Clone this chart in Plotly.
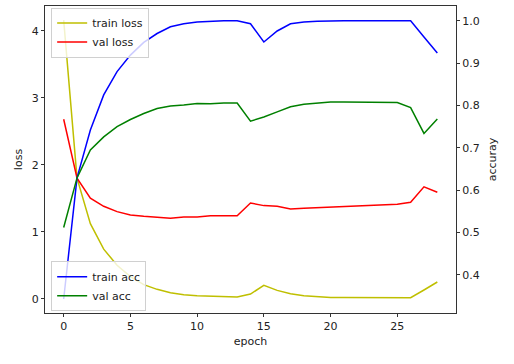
import plotly.graph_objects as go

# Training history (29 epochs)
epochs = list(range(29))
train_loss = [4.16, 1.80, 1.12, 0.74, 0.50, 0.33, 0.21, 0.14, 0.09, 0.06, 0.045,
              0.035, 0.03, 0.025, 0.07, 0.20, 0.125, 0.075, 0.045, 0.03, 0.02,
              0.02, 0.02, 0.02, 0.02, 0.02, 0.015, 0.13, 0.25]
val_loss = [2.68, 1.80, 1.50, 1.38, 1.30, 1.25, 1.23, 1.21, 1.20, 1.22, 1.22,
            1.24, 1.24, 1.24, 1.43, 1.39, 1.38, 1.34, 1.35, 1.36, 1.37,
            1.38, 1.38, 1.39, 1.40, 1.41, 1.44, 1.67, 1.59]
train_acc = [0.343, 0.629, 0.742, 0.825, 0.880, 0.919, 0.949, 0.970, 0.986, 0.993, 0.997,
             0.999, 1.0, 1.0, 0.993, 0.950, 0.976, 0.993, 0.997, 0.999, 1.0,
             1.0, 1.0, 1.0, 1.0, 1.0, 1.0, 0.962, 0.924]
val_acc = [0.512, 0.629, 0.695, 0.726, 0.750, 0.767, 0.781, 0.793, 0.799, 0.801, 0.805,
           0.804, 0.806, 0.806, 0.763, 0.773, 0.785, 0.797, 0.803, 0.806, 0.808,
           0.808, 0.808, 0.808, 0.808, 0.807, 0.795, 0.734, 0.768]

FONT = "DejaVu Sans"
TXT = "#222222"
LW = 1.5

fig = go.Figure()
fig.add_trace(go.Scatter(x=epochs, y=train_loss, mode="lines", name="train loss",
                         line=dict(color="#bfbf00", width=LW), legend="legend"))
fig.add_trace(go.Scatter(x=epochs, y=val_loss, mode="lines", name="val loss",
                         line=dict(color="#ff0000", width=LW), legend="legend"))
fig.add_trace(go.Scatter(x=epochs, y=train_acc, mode="lines", name="train acc",
                         line=dict(color="#0000ff", width=LW), yaxis="y2", legend="legend2"))
fig.add_trace(go.Scatter(x=epochs, y=val_acc, mode="lines", name="val acc",
                         line=dict(color="#008000", width=LW), yaxis="y2", legend="legend2"))

axis_common = dict(showgrid=False, zeroline=False, showline=True, linecolor="#333333",
                   linewidth=1, ticks="outside", ticklen=3, tickcolor="#333333",
                   tickfont=dict(family=FONT, size=11, color=TXT))

legend_common = dict(bgcolor="rgba(255,255,255,0.8)", bordercolor="#d0d0d0", borderwidth=1,
                     font=dict(family=FONT, size=11, color=TXT), xanchor="left",
                     tracegroupgap=0, itemwidth=30)

fig.update_layout(
    width=514, height=364,
    margin=dict(l=45, r=58, t=6, b=51),
    paper_bgcolor="white", plot_bgcolor="white",
    font=dict(family=FONT, size=11, color=TXT),
    xaxis=dict(range=[-1.4, 29.4], tickvals=[0, 5, 10, 15, 20, 25], mirror=True,
               title=dict(text="epoch", font=dict(family=FONT, size=11, color=TXT), standoff=5),
               **axis_common),
    yaxis=dict(range=[-0.213, 4.37], tickvals=[0, 1, 2, 3, 4],
               title=dict(text="loss", font=dict(family=FONT, size=11, color=TXT), standoff=6),
               **axis_common),
    yaxis2=dict(range=[0.31, 1.035], tickvals=[0.4, 0.5, 0.6, 0.7, 0.8, 0.9, 1.0],
                tickformat=".1f", overlaying="y", side="right",
                title=dict(text="accuray", font=dict(family=FONT, size=11, color=TXT), standoff=9),
                **axis_common),
    legend=dict(x=0.015, y=0.995, yanchor="top", **legend_common),
    legend2=dict(x=0.015, y=0.006, yanchor="bottom", **legend_common),
)

fig.write_html("out.html")
